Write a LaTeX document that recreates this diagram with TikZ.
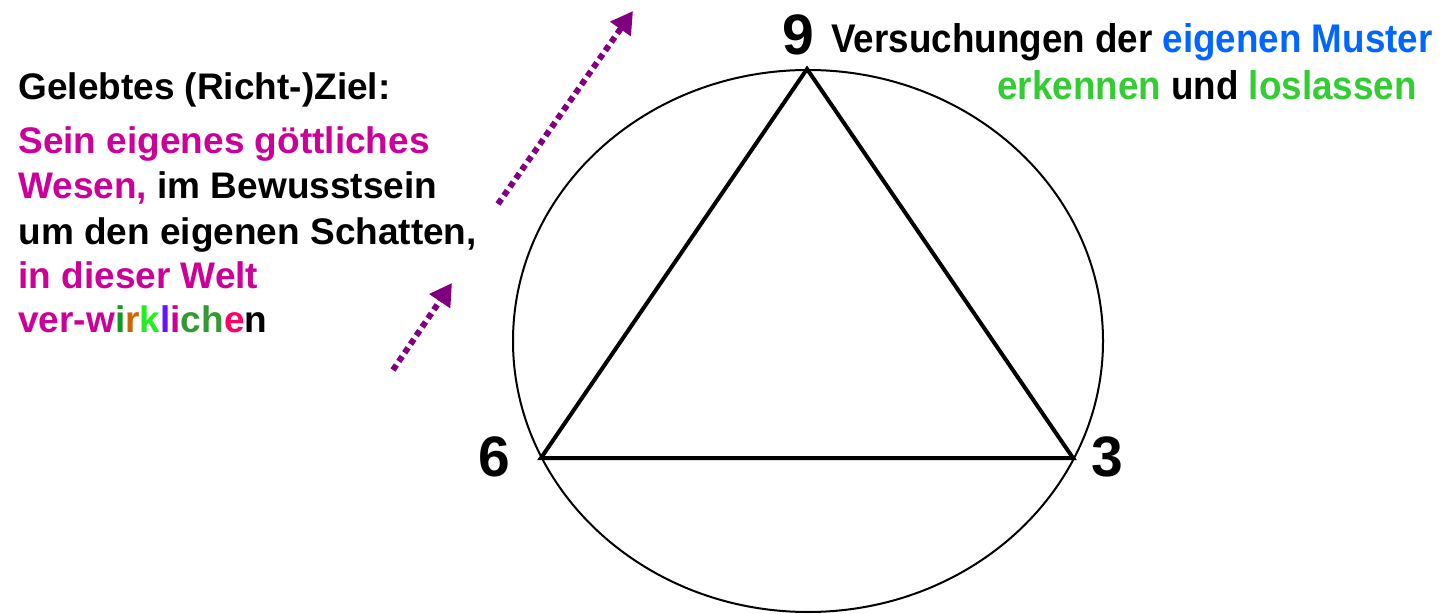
\documentclass[tikz,border=0pt]{standalone}
\usepackage{fontspec}
\setmainfont{Liberation Sans}
\newfontfamily\narrowfont[FakeStretch=0.92]{Liberation Sans}
\usetikzlibrary{arrows.meta}
\definecolor{mag}{HTML}{CC0099}
\definecolor{blu}{HTML}{0066FF}
\definecolor{grn}{HTML}{33CC33}
\definecolor{purp}{HTML}{800080}
\definecolor{cI}{HTML}{119922}
\definecolor{cR}{HTML}{CC6600}
\definecolor{cK}{HTML}{22EE22}
\definecolor{cL}{HTML}{6611FF}
\definecolor{cCH}{HTML}{339933}
\definecolor{cE}{HTML}{FF0066}
\tikzset{
  txt/.style={anchor=base west, inner sep=0pt, font=\fontsize{18.5pt}{22pt}\selectfont\bfseries},
  rtxt/.style={anchor=base west, inner sep=0pt, font=\narrowfont\fontsize{20pt}{24pt}\selectfont\bfseries},
  num/.style={inner sep=0pt, font=\fontsize{28.5pt}{30pt}\selectfont\bfseries},
  darr/.style={draw=purp, line width=3pt, dash pattern=on 3pt off 2.2pt, -{Triangle[length=11pt,width=12pt,fill=purp]}},
}
\begin{document}
\begin{tikzpicture}[x=0.5pt,y=-0.5pt]
\useasboundingbox (0,0) rectangle (1445,614);
% circle and triangle
\draw[line width=1pt] (808,341) ellipse [x radius=295, y radius=271];
\coordinate (t9) at (807,69);
\coordinate (t6) at (541,458);
\coordinate (t3) at (1073,458);
\draw[line width=2pt, line join=miter] (t9) -- (t6) -- (t3) -- cycle;
% numbers
\node[num] (n9) at (798,35) {9};
\node[num] (n6) at (494,457) {6};
\node[num] (n3) at (1107,457) {3};
% right text
\node[rtxt] (r1) at (831,53) {Versuchungen der \textcolor{blu}{eigenen Muster}};
\node[rtxt] (r2) at (997,100) {\textcolor{grn}{erkennen} und \textcolor{grn}{loslassen}};
% left text
\node[txt] (l1) at (18,100) {Gelebtes (Richt-)Ziel:};
\node[txt] (l2) at (18,154) {\textcolor{mag}{Sein eigenes göttliches}};
\node[txt] (l3) at (18,199) {\textcolor{mag}{Wesen,} im Bewusstsein};
\node[txt] (l4) at (18,245) {um den eigenen Schatten,};
\node[txt] (l5) at (18,289) {\textcolor{mag}{in dieser Welt}};
\node[txt] (l6) at (18,333) {\textcolor{mag}{ver-w}\textcolor{cI}{i}\textcolor{cR}{r}\textcolor{cK}{k}\textcolor{cL}{l}\textcolor{mag}{i}\textcolor{cCH}{ch}\textcolor{cE}{e}n};
% arrows
\coordinate (a1s) at (498,204);
\coordinate (a1e) at (633,11);
\coordinate (a2s) at (393,370);
\coordinate (a2e) at (452,283);
\draw[darr] (a1s) -- (a1e);
\draw[darr] (a2s) -- (a2e);
\end{tikzpicture}
\end{document}
